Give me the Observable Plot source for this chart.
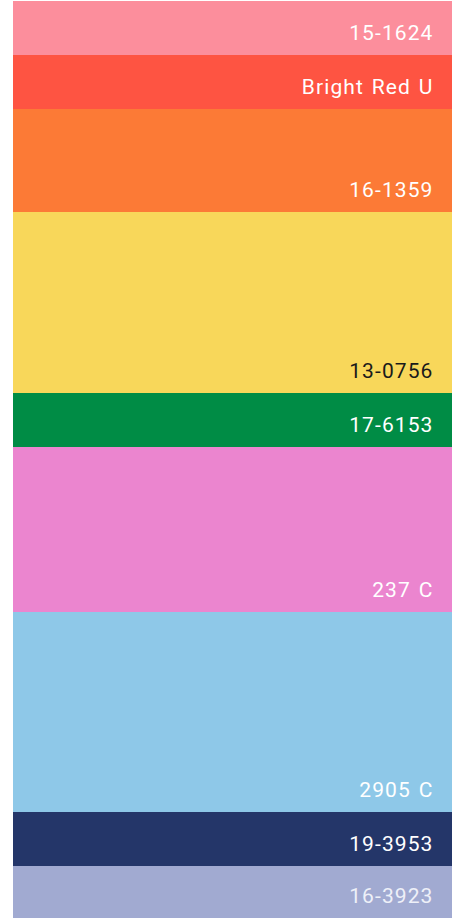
<!DOCTYPE html>
<html>
<head>
<meta charset="utf-8">
<script src="https://cdn.jsdelivr.net/npm/d3@7"></script>
<script src="https://cdn.jsdelivr.net/npm/@observablehq/plot@0.6"></script>
<style>
  html, body { margin: 0; padding: 0; background: #fff; }
  svg { display: block; }
</style>
</head>
<body>
<div id="chart"></div>
<script>
const labels = ["15-1624", "Bright Red U", "16-1359", "13-0756", "17-6153", "237 C", "2905 C", "19-3953", "16-3923"];
const values = [54, 54, 103, 181, 54, 165, 200, 54, 52];
const colors = ["#FC8E9C", "#FE5442", "#FC7A36", "#F8D75A", "#008C45", "#EB85CF", "#8EC8E8", "#243669", "#A1AAD1"];
const textColors = ["#ffffff", "#ffffff", "#ffffff", "#1a1a1a", "#ffffff", "#ffffff", "#ffffff", "#ffffff", "#eef0f8"];

const data = labels.map((label, i) => ({label, value: values[i], color: colors[i], text: textColors[i], group: "all"}));
const total = d3.sum(values);

const chart = Plot.plot({
  width: 452,
  height: 919,
  marginLeft: 13,
  marginRight: 0,
  marginTop: 1,
  marginBottom: 1,
  x: {type: "band", domain: ["all"], padding: 0, axis: null},
  y: {domain: [0, total], reverse: true, axis: null},
  style: {fontFamily: "Roboto, sans-serif"},
  marks: [
    Plot.barY(data, Plot.stackY({x: "group", y: "value", fill: (d) => d.color, order: null})),
    Plot.text(data, Plot.stackY2({
      y: "value",
      order: null,
      text: "label",
      fill: (d) => d.text,
      frameAnchor: "right",
      textAnchor: "end",
      lineAnchor: "bottom",
      dx: -19,
      dy: -16,
      fontSize: 21,
      fontWeight: 400
    }))
  ]
});
chart.querySelectorAll("text").forEach(t => {
  t.setAttribute("letter-spacing", "1.1");
  t.setAttribute("word-spacing", "1.5");
});
document.getElementById("chart").appendChild(chart);
</script>
</body>
</html>
